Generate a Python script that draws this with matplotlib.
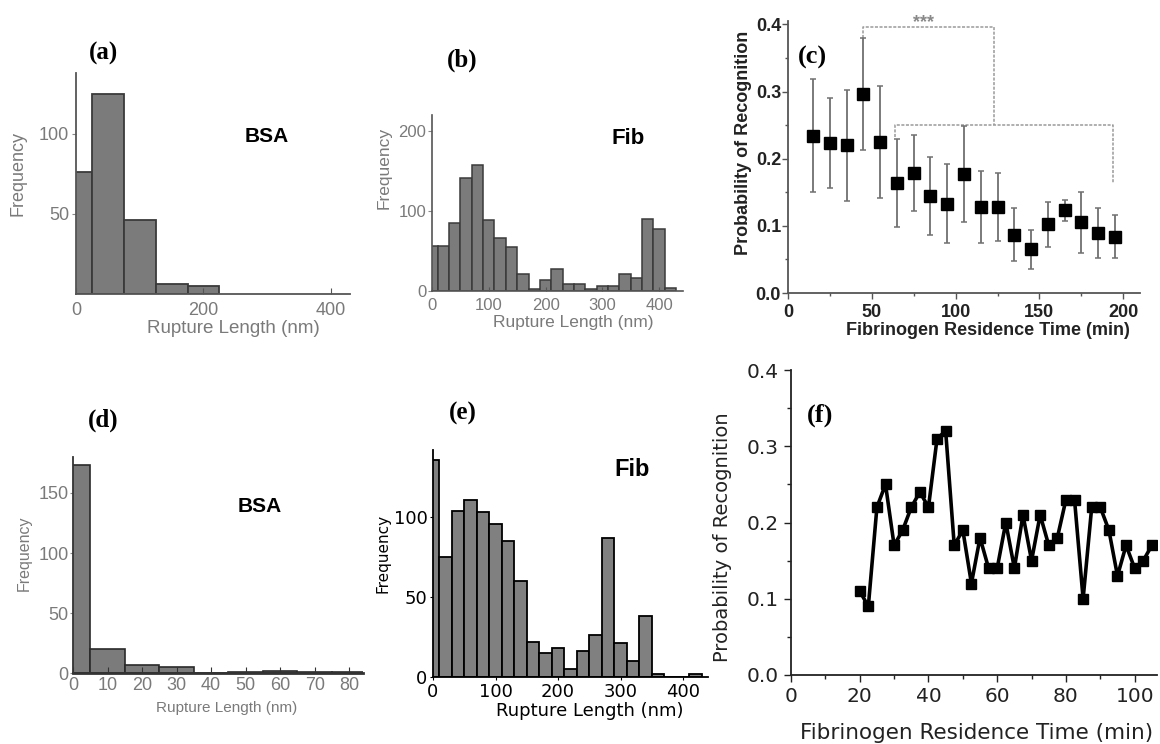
import matplotlib
matplotlib.use("Agg")
import matplotlib.pyplot as plt
import numpy as np
from matplotlib.ticker import MultipleLocator

# ---- data ----
# (a) BSA, rupture length histogram (50 nm bins)
a_centers = [0, 50, 100, 150, 200]
a_counts = [76, 125, 46, 6, 5]

# (b) Fib, rupture length histogram (20 nm bins)
b_centers = list(range(0, 440, 20))
b_counts = [56, 56, 85, 141, 158, 89, 66, 55, 21, 3, 14, 28, 9, 9, 2, 6, 6, 21, 16, 90, 78, 4]

# (c) probability of recognition vs residence time
c_time = [15, 25, 35, 45, 55, 65, 75, 85, 95, 105, 115, 125, 135, 145, 155, 165, 175, 185, 195]
c_prob = [0.234, 0.224, 0.220, 0.296, 0.225, 0.164, 0.179, 0.145, 0.133, 0.177,
          0.128, 0.128, 0.087, 0.065, 0.102, 0.123, 0.105, 0.089, 0.084]
c_err = [0.084, 0.067, 0.083, 0.083, 0.083, 0.065, 0.057, 0.058, 0.059, 0.071,
         0.054, 0.051, 0.039, 0.029, 0.034, 0.016, 0.046, 0.037, 0.032]
# significance brackets: (x left, x right, left foot, right foot, bar height)
c_brackets = [(45, 123, 0.379, 0.25, 0.396),
              (64, 194, 0.233, 0.164, 0.25)]

# (d) BSA, rupture length histogram (10 nm bins)
d_centers = [0, 10, 20, 30, 40, 50, 60, 70, 80]
d_counts = [173, 20, 7, 5, 0, 1, 2, 1, 1]

# (e) Fib, rupture length histogram (20 nm bins)
e_centers = list(range(0, 440, 20))
e_counts = [136, 75, 104, 111, 103, 96, 85, 60, 22, 15, 18, 5, 16, 26, 87, 21, 10, 38, 2, 0, 0, 2]

# (f) probability of recognition vs residence time
f_time = [20, 22.5, 25, 27.5, 30, 32.5, 35, 37.5, 40, 42.5, 45, 47.5, 50, 52.5, 55, 57.5,
          60, 62.5, 65, 67.5, 70, 72.5, 75, 77.5, 80, 82.5, 85, 87.5, 90, 92.5, 95, 97.5,
          100, 102.5, 105]
f_prob = [0.11, 0.09, 0.22, 0.25, 0.17, 0.19, 0.22, 0.24, 0.22, 0.31, 0.32, 0.17, 0.19, 0.12,
          0.18, 0.14, 0.14, 0.20, 0.14, 0.21, 0.15, 0.21, 0.17, 0.18, 0.23, 0.23, 0.10, 0.22,
          0.22, 0.19, 0.13, 0.17, 0.14, 0.15, 0.17]

W, H = 1160, 744
fig = plt.figure(figsize=(W / 100, H / 100), dpi=100)
fig.patch.set_facecolor("white")

SANS = "Liberation Sans"
SERIF = "Liberation Serif"


def box(l, t, r, b):
    ax = fig.add_axes([l / W, 1 - b / H, (r - l) / W, (b - t) / H])
    ax.spines["top"].set_visible(False)
    ax.spines["right"].set_visible(False)
    return ax


def ftext(x, y, s, **kw):
    fig.text(x / W, 1 - y / H, s, ha="center", va="center", **kw)


def style_ticks(ax, color, size, weight="normal", family=SANS):
    for lab in ax.get_xticklabels() + ax.get_yticklabels():
        lab.set_color(color)
        lab.set_fontsize(size)
        lab.set_fontweight(weight)
        lab.set_family(family)


grey_txt = "#7a7a7a"

# ---------------- (a) ----------------
ax = box(76, 73, 350, 294)
ax.bar(a_centers, a_counts, width=50, color="#7b7b7b", edgecolor="#3a3a3a", lw=1.3)
ax.set_xlim(0, 430)
ax.set_ylim(0, 138)
ax.set_xticks([0, 200, 400])
ax.set_yticks([50, 100])
ax.tick_params(axis="x", direction="in", length=4, color="#555", pad=6)
ax.tick_params(axis="y", direction="out", length=3, color="#888", pad=2)
for s in ax.spines.values():
    s.set_color("#555")
    s.set_linewidth(1.3)
style_ticks(ax, grey_txt, 13)
ftext(103, 53, "(a)", family=SERIF, weight="bold", fontsize=18)
ftext(267, 137, "BSA", family=SANS, weight="bold", fontsize=15)
ftext(18, 173, "Frequency", family=SANS, fontsize=13, color=grey_txt, rotation=90)
ftext(233, 328, "Rupture Length (nm)", family=SANS, fontsize=13.5, color=grey_txt)

# ---------------- (b) ----------------
ax = box(432, 115, 683, 291)
ax.bar(b_centers, b_counts, width=20, color="#7b7b7b", edgecolor="#3a3a3a", lw=1.1)
ax.set_xlim(0, 442)
ax.set_ylim(0, 220)
ax.set_xticks([0, 100, 200, 300, 400])
ax.set_yticks([0, 100, 200])
ax.tick_params(axis="x", direction="in", length=3, color="#555", pad=5)
ax.tick_params(axis="y", direction="out", length=3, color="#888", pad=1)
for s in ax.spines.values():
    s.set_color("#555")
    s.set_linewidth(1.2)
style_ticks(ax, grey_txt, 12)
ftext(462, 60, "(b)", family=SERIF, weight="bold", fontsize=18)
ftext(628, 138, "Fib", family=SANS, weight="bold", fontsize=16)
ftext(384, 168, "Frequency", family=SANS, fontsize=12.5, color=grey_txt, rotation=90)
ftext(573, 323, "Rupture Length (nm)", family=SANS, fontsize=12.5, color=grey_txt)

# ---------------- (c) ----------------
ax = box(788, 21, 1140, 293)
for xl, xr, yl, yr, yb in c_brackets:
    ax.plot([xl, xl, xr, xr], [yl, yb, yb, yr], ls=(0, (2, 1)), color="#9a9a9a",
            lw=1.1, clip_on=False, zorder=1)
ax.errorbar(c_time, c_prob, yerr=c_err, fmt="s", ms=9, mfc="black", mec="black",
            ecolor="#707070", elinewidth=1.3, capsize=2.5, capthick=1.1, zorder=3)
ax.text(81, 0.403, "***", ha="center", va="center", color="#888", fontsize=13,
        weight="bold", family=SANS, clip_on=False)
ax.set_xlim(0, 210)
ax.set_ylim(0, 0.405)
ax.set_xticks([0, 50, 100, 150, 200])
ax.set_yticks([0.0, 0.1, 0.2, 0.3, 0.4])
ax.yaxis.set_major_formatter(matplotlib.ticker.FormatStrFormatter("%.1f"))
ax.xaxis.set_minor_locator(MultipleLocator(25))
ax.yaxis.set_minor_locator(MultipleLocator(0.05))
ax.tick_params(which="both", direction="out", color="#555", width=1)
ax.tick_params(which="major", length=4)
ax.tick_params(which="minor", length=2.5)
ax.tick_params(axis="x", pad=4)
ax.tick_params(axis="y", pad=1)
for s in ax.spines.values():
    s.set_color("#555")
    s.set_linewidth(1.3)
style_ticks(ax, "#222", 13, weight="bold")
ftext(812, 57, "(c)", family=SERIF, weight="bold", fontsize=19)
ftext(743, 143, "Probability of Recognition", family=SANS, weight="bold", fontsize=13,
      color="#222", rotation=90)
ftext(988, 330, "Fibrinogen Residence Time (min)", family=SANS, weight="bold",
      fontsize=13, color="#222")

# ---------------- (d) ----------------
ax = box(73, 457, 363, 673)
ax.bar(d_centers, d_counts, width=10, color="#7b7b7b", edgecolor="#2a2a2a", lw=1.2)
ax.set_xlim(0, 84)
ax.set_ylim(0, 180)
ax.set_xticks(d_centers)
ax.set_yticks([0, 50, 100, 150])
ax.tick_params(axis="x", direction="in", length=4, color="#333", pad=3)
ax.tick_params(axis="y", direction="out", length=2, color="#888", pad=1)
for s in ax.spines.values():
    s.set_color("#333")
    s.set_linewidth(1.3)
ax.spines["bottom"].set_linewidth(2)
style_ticks(ax, grey_txt, 13)
ftext(103, 420, "(d)", family=SERIF, weight="bold", fontsize=18)
ftext(260, 507, "BSA", family=SANS, weight="bold", fontsize=15)
ftext(24, 553, "Frequency", family=SANS, fontsize=11.5, color=grey_txt, rotation=90)
ftext(227, 708, "Rupture Length (nm)", family=SANS, fontsize=11, color=grey_txt)

# ---------------- (e) ----------------
ax = box(433, 450, 708, 677)
ax.bar(e_centers, e_counts, width=20, color="#808080", edgecolor="black", lw=1.3)
ax.set_xlim(0, 440)
ax.set_ylim(0, 142)
ax.set_xticks([0, 100, 200, 300, 400])
ax.set_yticks([0, 50, 100])
ax.tick_params(axis="both", direction="out", length=2, color="black", pad=2)
for s in ax.spines.values():
    s.set_color("black")
    s.set_linewidth(1.3)
style_ticks(ax, "black", 13, family="DejaVu Sans")
ftext(463, 413, "(e)", family=SERIF, weight="bold", fontsize=18)
ftext(632, 470, "Fib", family=SANS, weight="bold", fontsize=17)
ftext(383, 553, "Frequency", family="DejaVu Sans", fontsize=11, color="black", rotation=90)
ftext(590, 711, "Rupture Length (nm)", family="DejaVu Sans", fontsize=13, color="black")

# ---------------- (f) ----------------
ax = box(791, 370, 1157, 675)
ax.plot(f_time, f_prob, "-s", color="black", lw=2.6, ms=7.5, zorder=3)
ax.set_xlim(0, 106.5)
ax.set_ylim(0, 0.4)
ax.set_xticks([0, 20, 40, 60, 80, 100])
ax.set_yticks([0.0, 0.1, 0.2, 0.3, 0.4])
ax.yaxis.set_major_formatter(matplotlib.ticker.FormatStrFormatter("%.1f"))
ax.xaxis.set_minor_locator(MultipleLocator(10))
ax.yaxis.set_minor_locator(MultipleLocator(0.05))
ax.tick_params(which="both", direction="out", color="#222", width=1)
ax.tick_params(which="major", length=5, pad=4)
ax.tick_params(which="minor", length=3)
for s in ax.spines.values():
    s.set_color("#222")
    s.set_linewidth(1.3)
style_ticks(ax, "#222", 14.5, family="DejaVu Sans")
ftext(820, 415, "(f)", family=SERIF, weight="bold", fontsize=19)
ftext(722, 537, "Probability of Recognition", family="DejaVu Sans", fontsize=14,
      color="#222", rotation=90)
ftext(977, 733, "Fibrinogen Residence Time (min)", family="DejaVu Sans", fontsize=15.5,
      color="#222")

fig.savefig("out.png", dpi=100, facecolor="white")
